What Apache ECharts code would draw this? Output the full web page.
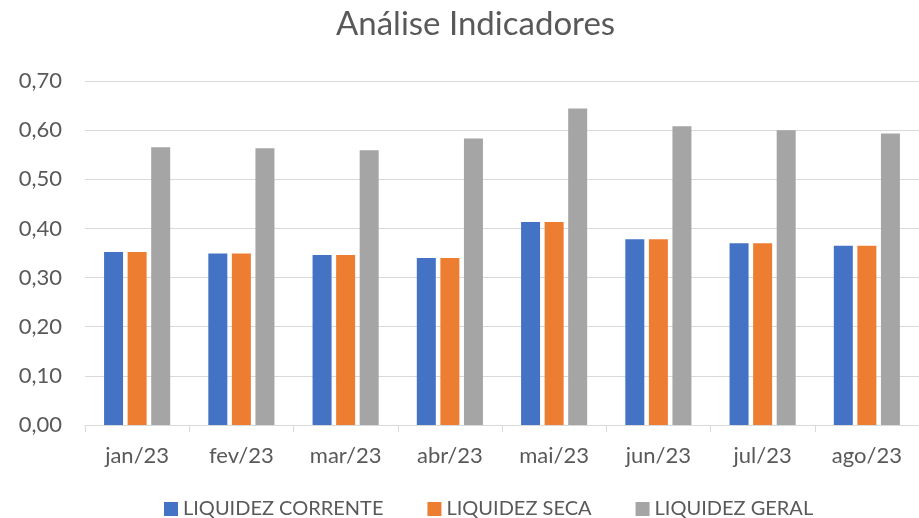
<!DOCTYPE html>
<html>
<head>
<meta charset="utf-8">
<script src="https://cdn.jsdelivr.net/npm/echarts@6/dist/echarts.min.js"></script>
<style>html,body{margin:0;padding:0;background:#fff;}#c{width:919px;height:518px;}</style>
</head>
<body>
<div id="c"></div>
<script>
const categories = ['jan/23','fev/23','mar/23','abr/23','mai/23','jun/23','jul/23','ago/23'];
const seriesNames = ['LIQUIDEZ CORRENTE','LIQUIDEZ SECA','LIQUIDEZ GERAL'];
const liquidezCorrente = [0.352, 0.349, 0.346, 0.340, 0.413, 0.378, 0.370, 0.365];
const liquidezSeca = [0.352, 0.349, 0.346, 0.340, 0.413, 0.378, 0.370, 0.365];
const liquidezGeral = [0.565, 0.563, 0.559, 0.583, 0.644, 0.608, 0.600, 0.593];
const colors = ['#4472C4','#ED7D31','#A5A5A5'];

const FONT = 'Lato';
const TXT = '#595959';
const chart = echarts.init(document.getElementById('c'), null, {renderer:'canvas'});
const values = [liquidezCorrente, liquidezSeca, liquidezGeral];
chart.setOption({
  animation: false,
  color: colors,
  textStyle: {fontFamily: FONT},
  title: {
    text: 'Análise Indicadores',
    left: 336, top: 8, padding: 0,
    textStyle: {fontFamily: FONT, fontSize: 33, fontWeight: 'normal', color: TXT}
  },
  legend: {
    data: seriesNames,
    left: 164, top: 499, padding: 0,
    itemWidth: 14, itemHeight: 14, itemGap: 44,
    icon: 'rect',
    textStyle: {fontFamily: FONT, fontSize: 20, color: TXT}
  },
  grid: {left: 85, right: -15, top: 81, bottom: 93, containLabel: false},
  xAxis: {
    type: 'category',
    data: categories,
    axisLine: {lineStyle: {color: '#D9D9D9', width: 1}},
    axisTick: {show: true, length: 7, lineStyle: {color: '#D9D9D9'}},
    axisLabel: {fontFamily: FONT, fontSize: 22, color: TXT, margin: 20}
  },
  yAxis: {
    type: 'value',
    min: 0, max: 0.7, interval: 0.1,
    axisLine: {show: false},
    axisTick: {show: false},
    splitLine: {lineStyle: {color: '#D9D9D9', width: 1}},
    axisLabel: {fontFamily: FONT, fontSize: 22, color: TXT, margin: 23,
      formatter: v => v.toFixed(2).replace('.', ',')}
  },
  series: seriesNames.map((n, i) => ({
    name: n, type: 'bar', data: values[i],
    barWidth: 19, barGap: '24%',
    itemStyle: {color: colors[i]}
  }))
});
</script>
</body>
</html>
